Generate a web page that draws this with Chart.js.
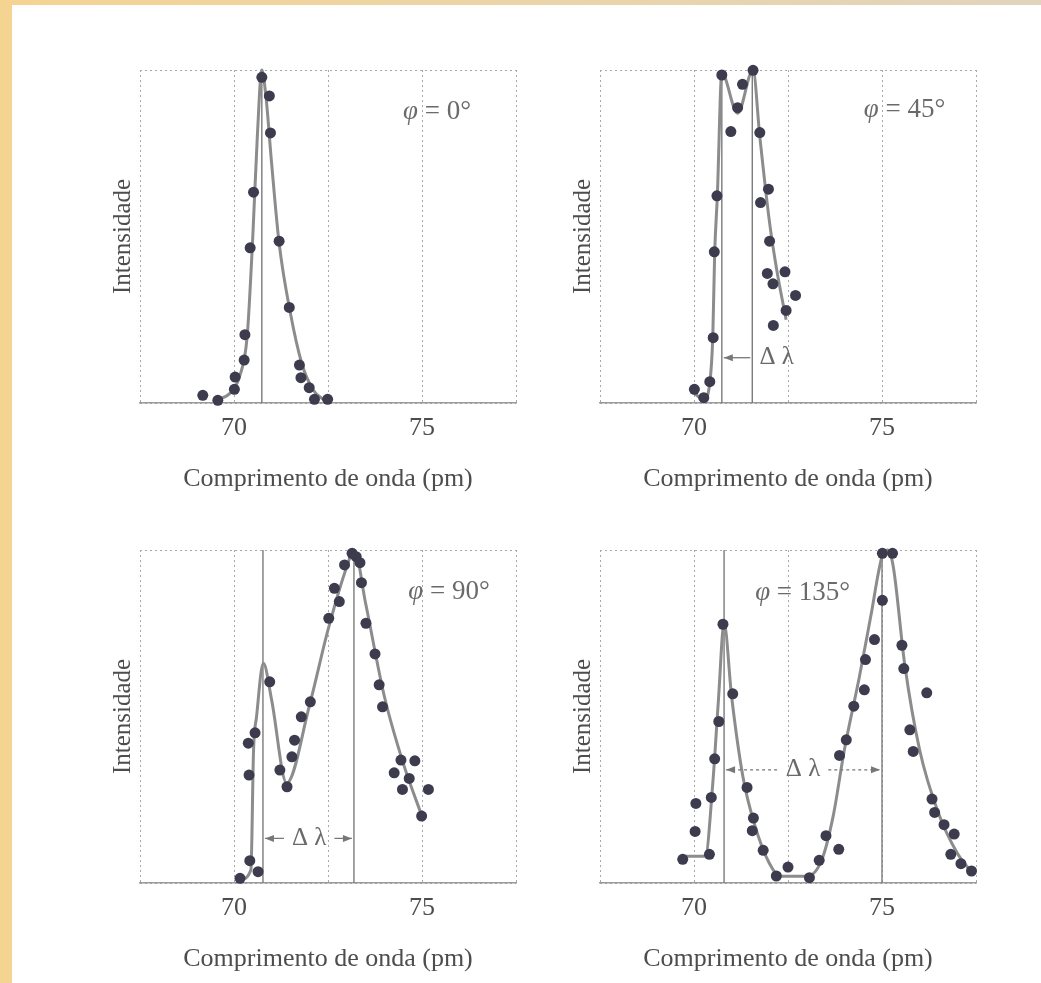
<!doctype html>
<html lang="pt">
    <head>
        <meta charset="UTF-8" />
        <title>Espalhamento Compton</title>
        <script src="https://cdn.jsdelivr.net/npm/chart.js@4"></script>
        <style>
            html,
            body {
                margin: 0;
                padding: 0;
                background: #ffffff;
            }

            body {
                width: 1041px;
                height: 983px;
                position: relative;
                overflow: hidden;
            }

            #strip-left {
                position: absolute;
                left: 0;
                top: 0;
                width: 12px;
                height: 983px;
                background: #f5d492;
            }

            #strip-top {
                position: absolute;
                left: 0;
                top: 0;
                width: 1041px;
                height: 5px;
                background: linear-gradient(to right, #f5d492, #e1d4bd);
            }

            .panel {
                position: absolute;
                width: 496px;
                height: 443px;
            }
        </style>
    </head>
    <body>
        <div id="strip-left"></div>
        <div id="strip-top"></div>

        <canvas class="panel" id="c0" width="496" height="443" style="left: 40px; top: 60px"></canvas>
        <canvas class="panel" id="c45" width="496" height="443" style="left: 500px; top: 60px"></canvas>
        <canvas class="panel" id="c90" width="496" height="443" style="left: 40px; top: 540px"></canvas>
        <canvas class="panel" id="c135" width="496" height="443" style="left: 500px; top: 540px"></canvas>

        <script>
            /*** * * data (wavelength in pm, intensity 0..100) * * ***/

            const xTicks = [67.5, 70, 72.5, 75, 77.5];
            const xLabels = ["", "70", "", "75", ""];

            // phi = 0
            const pts0X = [69.17, 69.57, 70.01, 70.03, 70.27, 70.29, 70.43, 70.52, 70.74, 70.94, 70.97, 71.2, 71.47, 71.74, 71.78, 72.0, 72.14, 72.49];
            const pts0Y = [2.3, 0.8, 4.1, 7.8, 12.9, 20.5, 46.6, 63.3, 97.8, 92.2, 81.1, 48.6, 28.7, 11.4, 7.6, 4.6, 1.1, 1.1];
            const fit0X = [69.55, 69.9, 70.15, 70.35, 70.5, 70.62, 70.74, 70.85, 71.0, 71.2, 71.5, 71.8, 72.1, 72.45];
            const fit0Y = [1, 3, 8, 20, 50, 80, 100, 92, 72, 48, 27, 12, 4, 0.5];
            const ref0 = [70.74];

            // phi = 45
            const pts45X = [70.01, 70.26, 70.42, 70.51, 70.54, 70.61, 70.74, 70.98, 71.16, 71.29, 71.57, 71.75, 71.98, 71.77, 72.01, 71.95, 72.1, 72.42, 72.45, 72.7, 72.11];
            const pts45Y = [4.1, 1.6, 6.4, 19.6, 45.4, 62.2, 98.5, 81.5, 88.7, 95.7, 99.9, 81.2, 64.2, 60.2, 48.6, 38.9, 35.8, 39.4, 27.8, 32.3, 23.3];
            const fit45X = [70.0, 70.26, 70.42, 70.5, 70.55, 70.62, 70.74, 71.16, 71.57, 71.75, 72.0, 72.2, 72.45];
            const fit45Y = [3, 1, 6, 20, 45, 62, 99, 87, 100, 80, 55, 40, 25];
            const ref45 = [70.74, 71.55];

            // phi = 90
            const pts90X = [70.16, 70.42, 70.64, 70.38, 70.4, 70.56, 70.95, 71.22, 71.41, 71.54, 71.61, 71.79, 72.03, 72.52, 72.67, 72.8, 72.94, 73.14, 73.25, 73.35, 73.39, 73.51, 73.75, 73.86, 73.95, 74.44, 74.26, 74.66, 74.48, 74.81, 75.17, 74.99];
            const pts90Y = [1.4, 6.7, 3.4, 42.0, 32.4, 45.1, 60.4, 33.9, 28.9, 37.9, 42.9, 49.9, 54.4, 79.5, 88.5, 84.5, 95.5, 99.0, 98.0, 96.2, 90.2, 78.0, 68.8, 59.5, 52.9, 36.9, 33.1, 31.4, 28.1, 36.7, 28.1, 20.1];
            const fit90X = [70.16, 70.45, 70.52, 70.6, 70.78, 71.0, 71.4, 72.0, 72.5, 73.0, 73.2, 73.5, 74.0, 74.5, 75.0];
            const fit90Y = [1, 4, 40, 50, 66, 55, 30, 53, 76, 95, 100, 84, 56, 36, 20];
            const ref90 = [70.77, 73.19];

            // phi = 135
            const pts135X = [69.7, 70.03, 70.05, 70.41, 70.46, 70.55, 70.66, 70.77, 71.03, 71.41, 71.58, 71.55, 71.84, 72.19, 72.5, 73.07, 73.33, 73.51, 73.85, 73.87, 74.05, 74.25, 74.53, 74.56, 74.8, 75.01, 75.01, 75.28, 75.53, 75.58, 76.19, 75.74, 75.83, 76.33, 76.4, 76.65, 76.92, 76.83, 77.1, 77.38];
            const pts135Y = [7.1, 15.5, 23.9, 8.6, 25.7, 37.3, 48.5, 77.7, 56.8, 28.7, 19.5, 15.7, 9.8, 2.1, 4.8, 1.6, 6.8, 14.2, 10.1, 38.3, 43.0, 53.1, 58.0, 67.1, 73.1, 84.9, 99.0, 99.0, 71.4, 64.4, 57.1, 46.0, 39.5, 25.2, 21.2, 17.5, 14.7, 8.6, 5.8, 3.6];
            const fit135X = [69.7, 70.3, 70.5, 70.65, 70.8, 71.0, 71.3, 71.6, 72.0, 72.3, 73.0, 73.4, 73.7, 74.0, 74.4, 74.7, 75.0, 75.15, 75.3, 75.6, 76.0, 76.5, 77.0, 77.4];
            const fit135Y = [8, 8, 30, 55, 78, 56, 32, 18, 6, 2, 2, 7, 20, 40, 62, 80, 98, 100, 95, 66, 40, 21, 9, 3];
            const ref135 = [70.8, 75.0];

            /*** * * helpers * * ***/

            const serif = "'Liberation Serif', 'DejaVu Serif', serif";
            const textColor = "#4d4d4d";
            const gridColor = "#a8a8a8";

            function pairs(xs, ys) {
                return xs.map((x, i) => ({ x: x, y: ys[i] }));
            }

            function refDatasets(refs) {
                return refs.map((x) => ({
                    type: "line",
                    data: [
                        { x: x, y: 0 },
                        { x: x, y: 100 },
                    ],
                    borderColor: "#7a7a7a",
                    borderWidth: 1.4,
                    pointRadius: 0,
                    clip: false,
                }));
            }

            // draws the phi label and the delta-lambda arrow with the chart's own scales
            const notesPlugin = {
                id: "notes",
                afterDatasetsDraw(chart, args, opts) {
                    const ctx = chart.ctx;
                    const xs = chart.scales.x;
                    const ys = chart.scales.y;

                    ctx.save();
                    ctx.fillStyle = "#6a6a6a";
                    ctx.textBaseline = "middle";

                    // phi = ...
                    const px = xs.getPixelForValue(opts.phiAt[0]);
                    const py = ys.getPixelForValue(opts.phiAt[1]);
                    ctx.font = "italic 27px " + serif;
                    const wPhi = ctx.measureText("\u03c6").width;
                    ctx.font = "27px " + serif;
                    const rest = " = " + opts.phi + "\u00b0";
                    const wRest = ctx.measureText(rest).width;
                    const left = px - (wPhi + wRest) / 2;
                    ctx.textAlign = "left";
                    ctx.font = "italic 27px " + serif;
                    ctx.fillText("\u03c6", left, py);
                    ctx.font = "27px " + serif;
                    ctx.fillText(rest, left + wPhi, py);

                    // delta lambda
                    const d = opts.delta;
                    if (d) {
                        const y = ys.getPixelForValue(d.y);
                        const x1 = xs.getPixelForValue(d.from);
                        const x2 = xs.getPixelForValue(d.to);
                        const tx = xs.getPixelForValue(d.labelAt);
                        ctx.strokeStyle = "#777777";
                        ctx.fillStyle = "#777777";
                        ctx.lineWidth = 1.3;
                        ctx.setLineDash(d.dashed ? [3, 3] : []);

                        ctx.font = "25px " + serif;
                        const label = "\u0394 \u03bb";
                        const tw = ctx.measureText(label).width;

                        ctx.beginPath();
                        if (d.outside) {
                            ctx.moveTo(x1 + 2, y);
                            ctx.lineTo(x2 - 2, y);
                        } else {
                            ctx.moveTo(x1 + 2, y);
                            ctx.lineTo(tx - tw / 2 - 8, y);
                            ctx.moveTo(tx + tw / 2 + 8, y);
                            ctx.lineTo(x2 - 2, y);
                        }
                        ctx.stroke();
                        ctx.setLineDash([]);

                        // arrow heads
                        const head = (x, dir) => {
                            ctx.beginPath();
                            ctx.moveTo(x, y);
                            ctx.lineTo(x - dir * 9, y - 3.5);
                            ctx.lineTo(x - dir * 9, y + 3.5);
                            ctx.closePath();
                            ctx.fill();
                        };
                        head(x1 + 2, -1);
                        if (!d.outside) head(x2 - 2, 1);

                        ctx.fillStyle = "#6a6a6a";
                        ctx.textAlign = "center";
                        ctx.fillText(label, tx, y);
                    }
                    ctx.restore();
                },
            };

            function makePanel(id, ptsX, ptsY, fitX, fitY, refs, notes) {
                const ctx = document.getElementById(id).getContext("2d");

                return new Chart(ctx, {
                    type: "scatter",
                    data: {
                        datasets: [
                            {
                                data: pairs(ptsX, ptsY),
                                backgroundColor: "#3c3c4e",
                                borderWidth: 0,
                                pointRadius: 5.5,
                                showLine: false,
                                clip: false,
                            },
                            {
                                type: "line",
                                data: pairs(fitX, fitY),
                                borderColor: "#8c8c8c",
                                borderWidth: 3,
                                pointRadius: 0,
                                cubicInterpolationMode: "monotone",
                                clip: false,
                            },
                            ...refDatasets(refs),
                        ],
                    },
                    options: {
                        responsive: false,
                        animation: false,
                        events: [],
                        layout: {
                            padding: { left: 40, top: 10, right: 20, bottom: 0 },
                        },
                        plugins: {
                            legend: { display: false },
                            tooltip: { enabled: false },
                            notes: notes,
                        },
                        scales: {
                            x: {
                                type: "linear",
                                min: 67.5,
                                max: 77.5,
                                afterBuildTicks: (scale) => {
                                    scale.ticks = xTicks.map((v) => ({ value: v }));
                                },
                                afterFit: (scale) => {
                                    scale.height = 100;
                                },
                                ticks: {
                                    autoSkip: false,
                                    maxRotation: 0,
                                    padding: 10,
                                    color: textColor,
                                    font: { family: serif, size: 26 },
                                    callback: (v) => xLabels[xTicks.indexOf(v)] ?? "",
                                },
                                grid: {
                                    color: gridColor,
                                    lineWidth: 1,
                                    drawTicks: false,
                                },
                                border: {
                                    display: true,
                                    color: "#9a9a9a",
                                    width: 1.5,
                                    dash: [2, 3],
                                },
                                title: {
                                    display: true,
                                    text: "Comprimento de onda (pm)",
                                    color: textColor,
                                    font: { family: serif, size: 26 },
                                    padding: { top: 0, bottom: 8 },
                                },
                            },
                            y: {
                                min: 0,
                                max: 100,
                                afterBuildTicks: (scale) => {
                                    scale.ticks = [{ value: 0 }, { value: 100 }];
                                },
                                afterFit: (scale) => {
                                    scale.width = 60;
                                },
                                ticks: { display: false },
                                grid: {
                                    color: gridColor,
                                    lineWidth: 1,
                                    drawTicks: false,
                                },
                                border: { display: false, dash: [2, 3] },
                                title: {
                                    display: true,
                                    text: "Intensidade",
                                    color: textColor,
                                    font: { family: serif, size: 25 },
                                    padding: { top: 28, bottom: 0 },
                                },
                            },
                        },
                    },
                    plugins: [notesPlugin],
                });
            }

            /*** * * ***/

            makePanel("c0", pts0X, pts0Y, fit0X, fit0Y, ref0, {
                phi: "0",
                phiAt: [75.4, 87.5],
            });

            makePanel("c45", pts45X, pts45Y, fit45X, fit45Y, ref45, {
                phi: "45",
                phiAt: [75.6, 88],
                delta: { y: 13.6, from: 70.74, to: 71.55, labelAt: 72.2, outside: true },
            });

            makePanel("c90", pts90X, pts90Y, fit90X, fit90Y, ref90, {
                phi: "90",
                phiAt: [75.72, 87.5],
                delta: { y: 13.4, from: 70.77, to: 73.19, labelAt: 72.0 },
            });

            makePanel("c135", pts135X, pts135Y, fit135X, fit135Y, ref135, {
                phi: "135",
                phiAt: [72.89, 87.2],
                delta: { y: 34, from: 70.8, to: 75.0, labelAt: 72.9, dashed: true },
            });
        </script>
    </body>
</html>
